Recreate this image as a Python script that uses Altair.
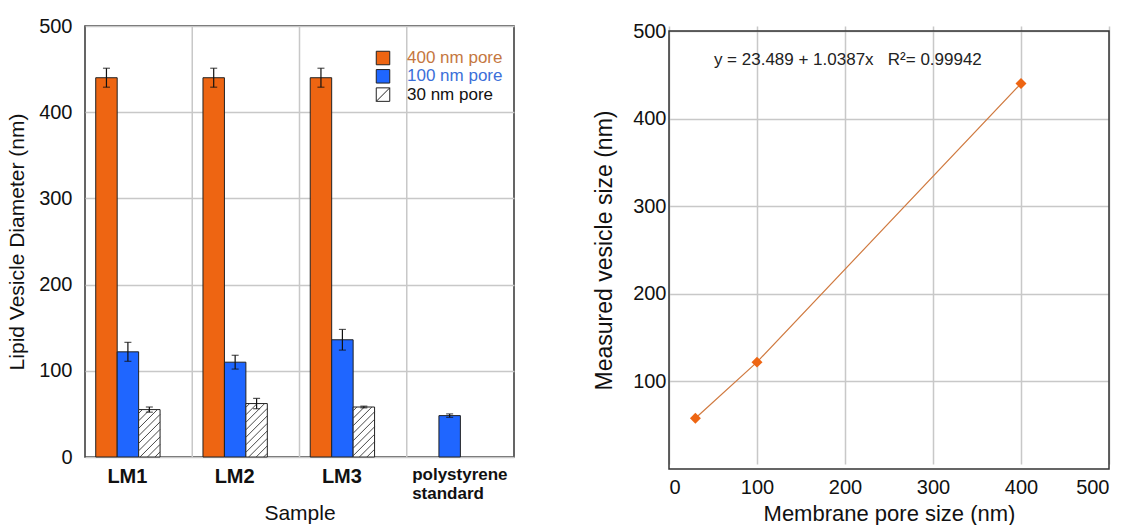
import altair as alt
import pandas as pd

# ---- data -------------------------------------------------------------
samples = ["LM1", "LM2", "LM3", "polystyrene standard"]
pore_labels = ["400 nm pore", "100 nm pore", "30 nm pore"]
pore_fills = ["#EE6512", "#1F66FF", "#FFFFFF"]
legend_text_colors = ["#C5773F", "#3C6FD9", "#111111"]

diam_400 = [440, 440, 440, None]
err_400 = [11, 11, 11, None]
diam_100 = [122, 110, 136, 48]
err_100 = [11, 8, 12, 2]
diam_30 = [55, 62, 58, None]
err_30 = [3, 6, 1, None]

pore_size_nm = [30, 100, 400]
measured_nm = [58, 122, 440]
fit_label = "y = 23.489 + 1.0387x\u00a0\u00a0\u00a0R\u00b2= 0.99942"

# ---- layout constants -------------------------------------------------
FONT = "Liberation Sans"
LW, LH = 429, 431          # bar chart plot area
RW, RH = 440, 438          # calibration plot area
R_TOP = 5                  # calibration frame sits a little lower
SLOTS_PER_GROUP = 5        # half gap, three bars, wide gap
N_SLOTS = SLOTS_PER_GROUP * len(samples)
Y_MAX = 500
GRID = "#C8C8C8"
EDGE = "#222222"
FRAME = "#333333"

# ---- bar chart table ----------------------------------------------------
series = [(diam_400, err_400), (diam_100, err_100), (diam_30, err_30)]
rows = []
for i, s in enumerate(samples):
    for j, (vals, errs) in enumerate(series):
        v = vals[i]
        if v is None:
            continue
        x0 = SLOTS_PER_GROUP * i + 0.5 + j
        rows.append(dict(sample=s, pore=pore_labels[j], fill=pore_fills[j],
                         x0=x0, x1=x0 + 1, xc=x0 + 0.5, v=v, base=0,
                         lo=v - errs[i], hi=v + errs[i]))
bars = pd.DataFrame(rows)

# diagonal hatching for the 30 nm bars, clipped to each bar
sx = LW / N_SLOTS
sy = LH / Y_MAX
spacing = 7.5
hatch = []
for r in rows:
    if r["pore"] != pore_labels[2]:
        continue
    W, H = sx, r["v"] * sy
    c = -H + spacing / 2
    while c < W:
        u0 = max(0.0, c)
        u1 = min(W, H + c)
        if u1 > u0:
            hatch.append(dict(hx0=r["x0"] + u0 / sx, hy0=(u0 - c) / sy,
                              hx1=r["x0"] + u1 / sx, hy1=(u1 - c) / sy))
        c += spacing
hatch = pd.DataFrame(hatch)

group_edges = pd.DataFrame({"g": [SLOTS_PER_GROUP * k for k in range(1, len(samples))]})

label_pos = [SLOTS_PER_GROUP * i + 2 for i in range(len(samples))]
last = label_pos[-1]
expr = "['polystyrene', 'standard']"
for p, s in reversed(list(zip(label_pos[:-1], samples[:-1]))):
    expr = f"datum.value == {p} ? '{s}' : {expr}"

xs = alt.Scale(domain=[0, N_SLOTS], nice=False, zero=False)
ys = alt.Scale(domain=[0, Y_MAX], nice=False)

x_axis = alt.Axis(
    values=label_pos, labelExpr=expr, title="Sample", grid=False, ticks=False,
    domain=False, labelFontWeight="bold",
    labelFontSize={"condition": {"test": f"datum.value == {last}", "value": 17}, "value": 20},
    labelAlign={"condition": {"test": f"datum.value == {last}", "value": "left"}, "value": "center"},
    labelOffset={"condition": {"test": f"datum.value == {last}", "value": -38}, "value": -1},
    labelPadding=9, labelLineHeight=19, labelOverlap=False,
    titleFontSize=21, titlePadding=1, titleFontWeight="normal",
)
y_axis = alt.Axis(
    values=list(range(0, Y_MAX + 1, 100)), grid=True, gridColor=GRID, gridWidth=1.5,
    ticks=False, domain=False, labelFontSize=20, labelPadding=13,
    title="Lipid Vesicle Diameter (nm)", titleFontSize=21, titlePadding=11,
    titleFontWeight="normal",
)

separators = alt.Chart(group_edges).mark_rule(color=GRID, strokeWidth=1.5).encode(
    x=alt.X("g:Q", scale=xs))

bar_layer = alt.Chart(bars).mark_rect(stroke=EDGE, strokeWidth=1).encode(
    x=alt.X("x0:Q", scale=xs, axis=x_axis),
    x2="x1:Q",
    y=alt.Y("v:Q", scale=ys, axis=y_axis),
    y2="base:Q",
    color=alt.Color("fill:N", scale=None),
)

hatch_layer = alt.Chart(hatch).mark_rule(color="#333333", strokeWidth=0.9).encode(
    x=alt.X("hx0:Q", scale=xs), y=alt.Y("hy0:Q", scale=ys), x2="hx1:Q", y2="hy1:Q")

err_rule = alt.Chart(bars).mark_rule(color="#111111", strokeWidth=1.2).encode(
    x=alt.X("xc:Q", scale=xs), y=alt.Y("lo:Q", scale=ys), y2="hi:Q")
cap_lo = alt.Chart(bars).mark_tick(orient="horizontal", size=7, thickness=1.2,
                                   color="#111111").encode(
    x=alt.X("xc:Q", scale=xs), y=alt.Y("lo:Q", scale=ys))
cap_hi = alt.Chart(bars).mark_tick(orient="horizontal", size=7, thickness=1.2,
                                   color="#111111").encode(
    x=alt.X("xc:Q", scale=xs), y=alt.Y("hi:Q", scale=ys))

# in-plot legend, placed in pixel space at the upper right
LEG_X, LEG_Y0, LEG_STEP, LEG_BOX = 298, 32, 18.3, 13.5
legend_df = pd.DataFrame({
    "label": pore_labels, "fill": pore_fills, "tc": legend_text_colors,
    "ly": [LEG_Y0 + k * LEG_STEP for k in range(len(pore_labels))],
})
legend_df["lx"] = LEG_X
legend_df["tx"] = LEG_X + 24
legend_df["dx0"] = LEG_X - LEG_BOX / 2
legend_df["dx1"] = LEG_X + LEG_BOX / 2
legend_df["dy0"] = legend_df["ly"] + LEG_BOX / 2
legend_df["dy1"] = legend_df["ly"] - LEG_BOX / 2

leg_sq = alt.Chart(legend_df).mark_square(size=LEG_BOX ** 2, opacity=1, stroke=EDGE,
                                          strokeWidth=1).encode(
    x=alt.X("lx:Q", scale=None), y=alt.Y("ly:Q", scale=None),
    color=alt.Color("fill:N", scale=None))
leg_diag = alt.Chart(legend_df[legend_df["label"] == pore_labels[2]]).mark_rule(
    color="#222222", strokeWidth=1).encode(
    x=alt.X("dx0:Q", scale=None), x2="dx1:Q",
    y=alt.Y("dy0:Q", scale=None), y2="dy1:Q")
leg_txt = alt.Chart(legend_df).mark_text(align="left", baseline="middle", fontSize=17,
                                         fontWeight="normal").encode(
    x=alt.X("tx:Q", scale=None), y=alt.Y("ly:Q", scale=None), text="label:N",
    color=alt.Color("tc:N", scale=None))

left = alt.layer(separators, bar_layer, hatch_layer, err_rule, cap_lo, cap_hi,
                 leg_sq, leg_diag, leg_txt).properties(width=LW, height=LH)

# ---- calibration plot ---------------------------------------------------
calib = pd.DataFrame({"pore": pore_size_nm, "measured": measured_nm})
frame_df = pd.DataFrame({"x0": [0], "x1": [500], "y0": [0], "y1": [500]})
note_df = pd.DataFrame({"text": [fit_label], "x": [51], "y": [467]})

rx = alt.Scale(domain=[0, 500], nice=False)
ry = alt.Scale(domain=[0, 500], nice=False, range=[RH + R_TOP, R_TOP])
rx_axis = alt.Axis(values=list(range(0, 501, 100)), grid=True, gridColor=GRID, gridWidth=1.5,
                   ticks=False, domain=False, labelFontSize=20, labelPadding=8,
                   title="Membrane pore size (nm)", titleFontSize=22, titlePadding=6,
                   titleFontWeight="normal")
ry_axis = alt.Axis(values=list(range(100, 501, 100)), grid=True, gridColor=GRID, gridWidth=1.5,
                   ticks=False, domain=False, labelFontSize=20, labelPadding=3,
                   title="Measured vesicle size (nm)", titleFontSize=23, titlePadding=16,
                   titleFontWeight="normal")

line = alt.Chart(calib).mark_line(color="#D07A40", strokeWidth=1.2).encode(
    x=alt.X("pore:Q", scale=rx, axis=rx_axis), y=alt.Y("measured:Q", scale=ry, axis=ry_axis))
pts = alt.Chart(calib).mark_point(shape="diamond", filled=True, size=120, opacity=1,
                                  color="#EE6512").encode(
    x=alt.X("pore:Q", scale=rx), y=alt.Y("measured:Q", scale=ry))
frame = alt.Chart(frame_df).mark_rect(fillOpacity=0, stroke=FRAME, strokeWidth=1.5).encode(
    x=alt.X("x0:Q", scale=rx), x2="x1:Q", y=alt.Y("y0:Q", scale=ry), y2="y1:Q")
eq = alt.Chart(note_df).mark_text(align="left", baseline="middle", fontSize=17,
                                  fontWeight="normal", color="#222222").encode(
    x=alt.X("x:Q", scale=rx), y=alt.Y("y:Q", scale=ry), text="text:N")

right = alt.layer(line, pts, frame, eq).properties(
    width=RW, height=RH + R_TOP,
    view=alt.ViewBackground(stroke="transparent"),
)

chart = alt.hconcat(left, right, spacing=77).properties(
    padding={"left": 5, "top": 15, "right": 0, "bottom": 0}
).configure(font=FONT).configure_view(stroke=FRAME, strokeWidth=1.5).configure_axis(
    labelColor="#111111", titleColor="#111111", labelFont=FONT, titleFont=FONT)

chart.save("out.html", embed_options={"renderer": "svg", "actions": False})
